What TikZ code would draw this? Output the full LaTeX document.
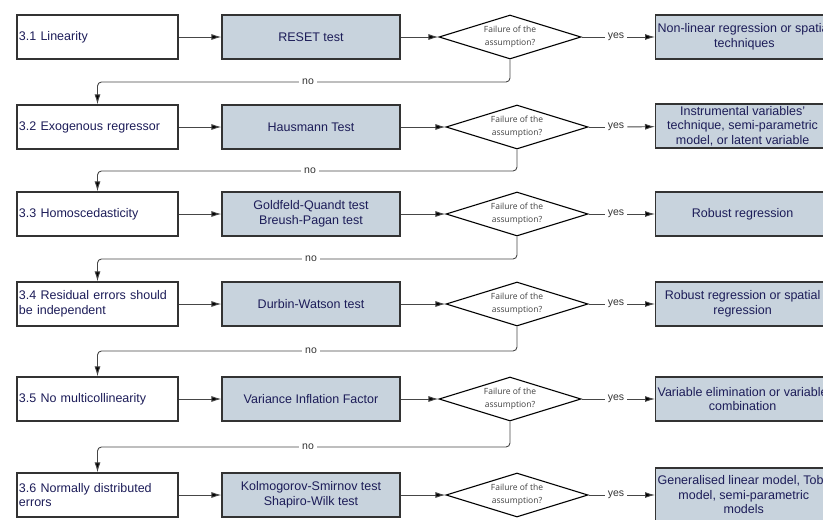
\documentclass[tikz,border=0pt]{standalone}
\usepackage{fontspec}
\setmainfont{Liberation Sans}
\newfontfamily\diafont{Open Sans}
\usetikzlibrary{shapes.geometric,arrows.meta}

\definecolor{navy}{RGB}{28,28,88}
\definecolor{boxgrey}{RGB}{200,211,221}
\definecolor{linegrey}{RGB}{70,70,70}

\tikzset{
	prop/.style={draw=black!80, line width=1.2pt, text=navy, text width=157pt, inner xsep=2pt,
		minimum height=44pt, align=left, font=\fontsize{12.5}{14.5}\selectfont},
	test/.style={draw=black!80, line width=1.2pt, fill=boxgrey, text=navy, minimum width=178pt,
		minimum height=44pt, inner ysep=1pt, align=center, font=\fontsize{12.5}{14.5}\selectfont},
	sol/.style={test, minimum width=174pt, inner xsep=2pt, anchor=west},
	fail/.style={draw=black, line width=1.1pt, diamond, aspect=3.2, minimum width=142pt,
		minimum height=44pt, inner sep=0pt, align=center, text=black!75,
		font=\diafont\fontsize{8.5}{13}\selectfont},
	lbl/.style={text=black!80, inner sep=3pt, font=\fontsize{10.5}{12}\selectfont},
	arr/.style={draw=linegrey, line width=0.9pt, -{Latex[length=10pt,width=6pt,fill=black]}},
	ln/.style={draw=linegrey, line width=0.9pt},
}

\begin{document}
\begin{tikzpicture}[x=1pt, y=-1pt]
	\useasboundingbox (0,0) rectangle (823,520);
	\clip (0,0) rectangle (823,520);

	% 3.1
	\node (p1) at (97.5,37) [prop] {3.1 Linearity};
	\node (t1) at (311,37) [test] {RESET test};
	\node (f1) at (510,37) [fail] {Failure of the\\assumption?};
	\node (y1) at (616,37) [lbl] {yes};
	\node (s1) at (655,37) [sol] {Non-linear regression or spatial\\techniques};
	\node (n1) at (308,82) [lbl] {no};

	% 3.2
	\node (p2) at (97.5,127) [prop] {3.2 Exogenous regressor};
	\node (t2) at (311,127) [test] {Hausmann Test};
	\node (f2) at (517,127) [fail] {Failure of the\\assumption?};
	\node (y2) at (616,127) [lbl] {yes};
	\node (s2) at (655,126) [sol] {Instrumental variables'\\technique, semi-parametric\\model, or latent variable};
	\node (n2) at (310,171) [lbl] {no};

	% 3.3
	\node (p3) at (97.5,214) [prop] {3.3 Homoscedasticity};
	\node (t3) at (311,214) [test] {Goldfeld-Quandt test\\Breush-Pagan test};
	\node (f3) at (517,214) [fail] {Failure of the\\assumption?};
	\node (y3) at (616,214) [lbl] {yes};
	\node (s3) at (655,214) [sol] {Robust regression};
	\node (n3) at (311,259) [lbl] {no};

	% 3.4
	\node (p4) at (97.5,304) [prop] {3.4 Residual errors should\\be independent};
	\node (t4) at (311,304) [test] {Durbin-Watson test};
	\node (f4) at (517,304) [fail] {Failure of the\\assumption?};
	\node (y4) at (616,304) [lbl] {yes};
	\node (s4) at (655,304) [sol] {Robust regression or spatial\\regression};
	\node (n4) at (311,351) [lbl] {no};

	% 3.5
	\node (p5) at (97.5,399) [prop] {3.5 No multicollinearity};
	\node (t5) at (311,399) [test] {Variance Inflation Factor};
	\node (f5) at (510,399) [fail] {Failure of the\\assumption?};
	\node (y5) at (616,399) [lbl] {yes};
	\node (s5) at (655,399) [sol] {Variable elimination or variable\\combination};
	\node (n5) at (308,447) [lbl] {no};

	% 3.6
	\node (p6) at (97.5,495) [prop] {3.6 Normally distributed\\errors};
	\node (t6) at (311,495) [test] {Kolmogorov-Smirnov test\\Shapiro-Wilk test};
	\node (f6) at (517,495) [fail] {Failure of the\\assumption?};
	\node (y6) at (616,495) [lbl] {yes};
	\node (s6) at (655,495) [sol, minimum height=54pt] {Generalised linear model, Tobit\\model, semi-parametric\\models};

	\draw
	(p1) edge[arr] (t1)
	(t1) edge[arr] (f1)
	(f1) edge[ln] (y1)
	(y1) edge[arr] (s1)
	(p2) edge[arr] (t2)
	(t2) edge[arr] (f2)
	(f2) edge[ln] (y2)
	(y2) edge[arr] (s2)
	(p3) edge[arr] (t3)
	(t3) edge[arr] (f3)
	(f3) edge[ln] (y3)
	(y3) edge[arr] (s3)
	(p4) edge[arr] (t4)
	(t4) edge[arr] (f4)
	(f4) edge[ln] (y4)
	(y4) edge[arr] (s4)
	(p5) edge[arr] (t5)
	(t5) edge[arr] (f5)
	(f5) edge[ln] (y5)
	(y5) edge[arr] (s5)
	(p6) edge[arr] (t6)
	(t6) edge[arr] (f6)
	(f6) edge[ln] (y6)
	(y6) edge[arr] (s6)
	;

	% no branches
	\draw[arr, rounded corners=4pt] (f1.south) |- (n1) -| (p2.north);
	\draw[arr, rounded corners=4pt] (f2.south) |- (n2) -| (p3.north);
	\draw[arr, rounded corners=4pt] (f3.south) |- (n3) -| (p4.north);
	\draw[arr, rounded corners=4pt] (f4.south) |- (n4) -| (p5.north);
	\draw[arr, rounded corners=4pt] (f5.south) |- (n5) -| (p6.north);
\end{tikzpicture}
\end{document}
